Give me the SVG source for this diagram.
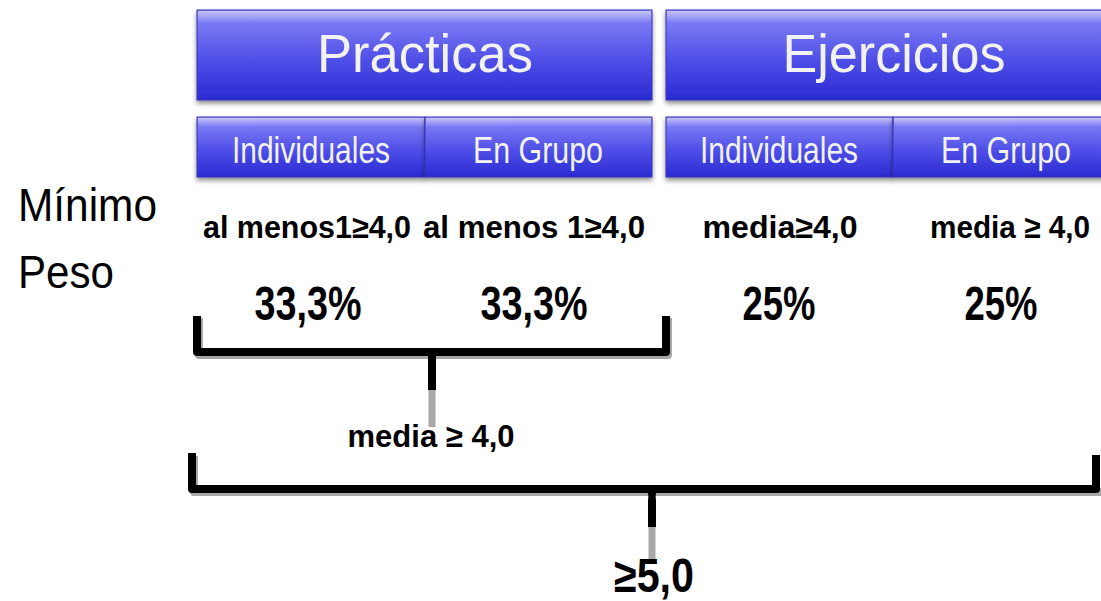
<svg xmlns="http://www.w3.org/2000/svg" width="1101" height="601" viewBox="0 0 1101 601">
<defs>
<linearGradient id="blue" x1="0" y1="0" x2="0" y2="1">
<stop offset="0" stop-color="#9494f6"/>
<stop offset="0.12" stop-color="#7c7cf4"/>
<stop offset="0.55" stop-color="#4f4fe8"/>
<stop offset="1" stop-color="#2a2ad2"/>
</linearGradient>
<linearGradient id="hl" x1="0" y1="0" x2="0" y2="1">
<stop offset="0" stop-color="#ffffff" stop-opacity="0.45"/>
<stop offset="1" stop-color="#ffffff" stop-opacity="0"/>
</linearGradient>
<filter id="sh" x="-5%" y="-20%" width="110%" height="150%">
<feDropShadow dx="0" dy="3" stdDeviation="2.5" flood-color="#000" flood-opacity="0.45"/>
</filter>
</defs>
<style>
.box{fill:url(#blue);stroke:#3434b8;stroke-width:1;filter:url(#sh)}
.hl{fill:url(#hl)}
.big{font-family:"Liberation Sans",Arial,sans-serif;font-size:53px;fill:#f2f2f2;text-anchor:middle}
.sub{font-family:"Liberation Sans Narrow","Liberation Sans",Arial,sans-serif;font-size:37px;fill:#f2f2f2;text-anchor:middle}
.lbl{font-family:"Liberation Sans Narrow","Liberation Sans",Arial,sans-serif;font-size:46px;fill:#000}
.b30{font-family:"Liberation Sans Narrow","Liberation Sans",Arial,sans-serif;font-weight:bold;font-size:32px;fill:#000;text-anchor:middle}
.b46{font-family:"Liberation Sans Narrow","Liberation Sans",Arial,sans-serif;font-weight:bold;font-size:48px;fill:#000;text-anchor:middle}
.br{fill:none;stroke:#000;stroke-width:8;stroke-linejoin:round}
.brs{fill:none;stroke:#a8a8a8;stroke-width:8;stroke-linejoin:round}
.stem{stroke:#000;stroke-width:8}
.stemg{stroke:#a8a8a8;stroke-width:7}
</style>

<g id="practicas">
<rect class="box" x="197" y="10" width="455" height="90"/>
<rect class="hl" x="198" y="11" width="453" height="12"/>
<text class="big" x="425" y="72" textLength="216" lengthAdjust="spacingAndGlyphs">Prácticas</text>
</g>
<g id="ejercicios">
<rect class="box" x="666" y="10" width="455" height="90"/>
<rect class="hl" x="667" y="11" width="453" height="12"/>
<text class="big" x="894" y="72" textLength="223" lengthAdjust="spacingAndGlyphs">Ejercicios</text>
</g>
<g id="p-individuales">
<rect class="box" x="197" y="117" width="228" height="60"/>
<rect class="hl" x="198" y="118" width="226" height="9"/>
<text class="sub" x="311" y="163" textLength="158" lengthAdjust="spacingAndGlyphs">Individuales</text>
</g>
<g id="p-grupo">
<rect class="box" x="425" y="117" width="227" height="60"/>
<rect class="hl" x="426" y="118" width="225" height="9"/>
<text class="sub" x="538" y="163" textLength="130" lengthAdjust="spacingAndGlyphs">En Grupo</text>
</g>
<g id="e-individuales">
<rect class="box" x="666" y="117" width="227" height="60"/>
<rect class="hl" x="667" y="118" width="225" height="9"/>
<text class="sub" x="779" y="163" textLength="158" lengthAdjust="spacingAndGlyphs">Individuales</text>
</g>
<g id="e-grupo">
<rect class="box" x="893" y="117" width="228" height="60"/>
<rect class="hl" x="894" y="118" width="226" height="9"/>
<text class="sub" x="1006" y="163" textLength="130" lengthAdjust="spacingAndGlyphs">En Grupo</text>
</g>

<g id="row-labels">
<text class="lbl" x="18" y="221" textLength="139" lengthAdjust="spacingAndGlyphs">Mínimo</text>
<text class="lbl" x="18" y="288" textLength="96" lengthAdjust="spacingAndGlyphs">Peso</text>
</g>

<g id="minimos">
<text class="b30" x="307" y="238" textLength="208" lengthAdjust="spacingAndGlyphs">al menos1≥4,0</text>
<text class="b30" x="534" y="238" textLength="222" lengthAdjust="spacingAndGlyphs">al menos 1≥4,0</text>
<text class="b30" x="780" y="238" textLength="155" lengthAdjust="spacingAndGlyphs">media≥4,0</text>
<text class="b30" x="1010" y="238" textLength="160" lengthAdjust="spacingAndGlyphs">media ≥ 4,0</text>
</g>
<g id="pesos">
<text class="b46" x="308" y="320" textLength="107" lengthAdjust="spacingAndGlyphs">33,3%</text>
<text class="b46" x="534" y="320" textLength="107" lengthAdjust="spacingAndGlyphs">33,3%</text>
<text class="b46" x="779" y="320" textLength="73" lengthAdjust="spacingAndGlyphs">25%</text>
<text class="b46" x="1001" y="320" textLength="73" lengthAdjust="spacingAndGlyphs">25%</text>
</g>

<g id="connectors">
<path class="brs" d="M199,318 V355 H668 V318"/>
<path class="br" d="M197,316 V352 H666 V316"/>
<line class="stem" x1="432" y1="352" x2="432" y2="390"/>
<line class="stemg" x1="432" y1="390" x2="432" y2="427"/>
<path class="brs" d="M194,456 V492 H1101"/>
<path class="br" d="M192,453 V489 H1096 V455"/>
<path d="M640,485 Q650,486 648,500 L648,527 L656,527 L656,500 Q654,486 664,485 Z" fill="#000"/>
<line class="stemg" x1="652" y1="527" x2="652" y2="561"/>
</g>

<g id="results">
<text class="b30" x="431" y="447" textLength="167" lengthAdjust="spacingAndGlyphs">media ≥ 4,0</text>
<text class="b46" x="654" y="592" font-size="46" textLength="80" lengthAdjust="spacingAndGlyphs">≥5,0</text>
</g>
</svg>
